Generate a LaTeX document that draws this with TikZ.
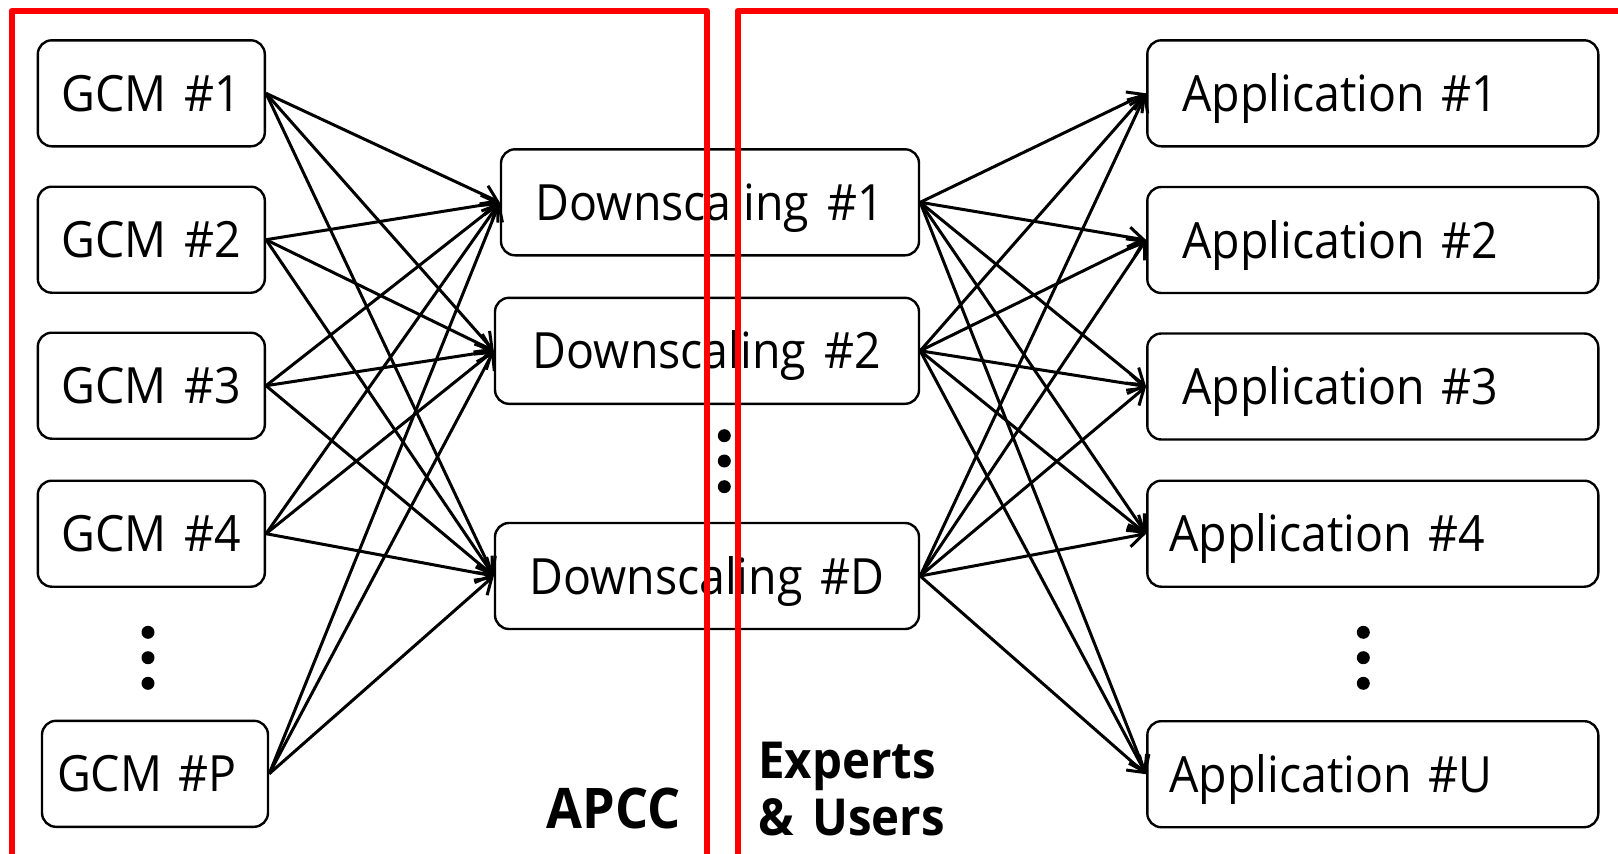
\documentclass[tikz,border=0pt]{standalone}
\usepackage{fontspec}
\setmainfont{Open Sans}[FakeStretch=0.93, WordSpace=1.5]
\usetikzlibrary{arrows.meta}
\begin{document}
\begin{tikzpicture}[x=1pt,y=-1pt,
  box/.style={draw, line width=2.4pt, rounded corners=14pt, minimum height=106pt,
    inner sep=0pt, text height=36pt, text depth=0pt, font=\fontsize{50}{60}\selectfont},
  flow/.style={line width=3pt, -{Straight Barb[length=15pt,width=20pt,line width=3pt]}},
  frame/.style={draw=red, line width=6pt, line join=round},
  tag/.style={inner sep=0pt, font=\fontsize{51}{60}\selectfont\bfseries},
]
\useasboundingbox (0,0) rectangle (1618,854);

% global climate models
\node[box, minimum width=227pt] (g1) at (151.3,93.3) {GCM \#1};
\node[box, minimum width=227pt] (g2) at (151.3,239.7) {GCM \#2};
\node[box, minimum width=227pt] (g3) at (151.3,385.7) {GCM \#3};
\node[box, minimum width=227pt] (g4) at (151.3,533.7) {GCM \#4};
\node[box, text width=196pt, inner xsep=15pt, align=left] (gP) at (155,773.8) {GCM \#P};

% downscaling methods
\node[box, minimum width=418pt] (d1) at (710,202.3) {Downscaling \#1};
\node[box, minimum width=424pt] (d2) at (707,350.8) {Downscaling \#2};
\node[box, minimum width=424pt] (dD) at (707,576) {Downscaling \#D};

% applications
\node[box, text width=381pt, inner xsep=35pt, align=left] (a1) at (1372.8,93.3) {Application \#1};
\node[box, text width=381pt, inner xsep=35pt, align=left] (a2) at (1372.8,240) {Application \#2};
\node[box, text width=381pt, inner xsep=35pt, align=left] (a3) at (1372.8,386.5) {Application \#3};
\node[box, text width=407pt, inner xsep=22pt, align=left] (a4) at (1372.8,533.7) {Application \#4};
\node[box, text width=407pt, inner xsep=22pt, align=left] (aU) at (1372.8,774.2) {Application \#U};

% every model feeds every downscaling method
\foreach \g in {g1,g2,g3,g4,gP}
  \foreach \d in {d1,d2,dD}
    \draw[flow] (\g.east) -- (\d.west);

% every downscaling method feeds every application
\foreach \d in {d1,d2,dD}
  \foreach \a in {a1,a2,a3,a4,aU}
    \draw[flow] (\d.east) -- (\a.west);

% ellipses
\foreach \y in {632.3,657.7,683.3} {
  \fill (148,\y) circle (6.5pt);
  \fill (1363.3,\y) circle (6.5pt);
}
\foreach \y in {435.7,461,486.7}
  \fill (724.3,\y) circle (6.5pt);

% responsibility frames
\draw[frame] (11.5,856) -- (11.5,10.8) -- (706.8,10.8) -- (706.8,856);
\draw[frame] (737.5,856) -- (737.5,10.8) -- (1620,10.8);

\node[tag, anchor=base east, font=\fontsize{56}{60}\selectfont\bfseries] (apcc) at (681,828) {APCC};
\node[tag, anchor=base west] (expl1) at (758,778) {Experts};
\node[tag, anchor=base west] (expl2) at (758,835) {\& Users};
\end{tikzpicture}
\end{document}
